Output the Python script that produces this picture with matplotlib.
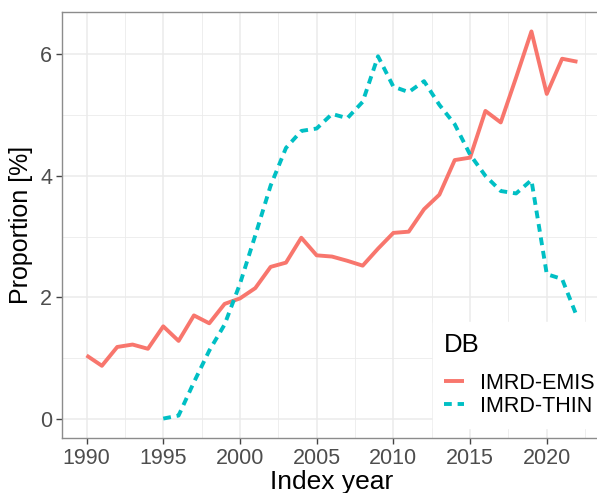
import matplotlib
matplotlib.use("Agg")
import matplotlib.pyplot as plt
from matplotlib.ticker import MultipleLocator

plt.rcParams['font.family'] = ['Liberation Sans', 'DejaVu Sans']

# data
years_emis = list(range(1990, 2023))
emis = [1.04, 0.87, 1.18, 1.22, 1.15, 1.52, 1.28, 1.70, 1.57, 1.89,
        1.98, 2.15, 2.50, 2.57, 2.98, 2.69, 2.67, 2.60, 2.52, 2.80,
        3.06, 3.08, 3.45, 3.69, 4.26, 4.30, 5.07, 4.88, 5.62, 6.38,
        5.35, 5.93, 5.88]

years_thin = list(range(1995, 2023))
thin = [0.00, 0.05, 0.60, 1.12, 1.55, 2.22, 3.02, 3.84, 4.46, 4.74,
        4.78, 5.02, 4.95, 5.22, 5.97, 5.47, 5.38, 5.56, 5.17, 4.85,
        4.35, 4.00, 3.75, 3.71, 3.93, 2.38, 2.30, 1.66]

labels = ['IMRD-EMIS', 'IMRD-THIN']
red = '#F8766D'
teal = '#00BFC4'
grid_col = '#EBEBEB'
frame_col = '#8C8C8C'

fig = plt.figure(figsize=(5.97, 4.93), dpi=100)
W, H = 597.0, 493.0
ax = fig.add_axes([62 / W, 55 / H, (602 - 62) / W, (438 - 12) / H])

ax.plot(years_emis, emis, color=red, lw=2.8, solid_capstyle='butt',
        label=labels[0], zorder=3)
ax.plot(years_thin, thin, color=teal, lw=2.8, linestyle=(0, (2.0, 1.5)),
        dash_capstyle='butt', label=labels[1], zorder=3)

ax.set_xlim(1988.4, 2023.6)
ax.set_ylim(-0.32, 6.70)
ax.xaxis.set_major_locator(MultipleLocator(5))
ax.xaxis.set_minor_locator(MultipleLocator(2.5))
ax.yaxis.set_major_locator(MultipleLocator(2))
ax.yaxis.set_minor_locator(MultipleLocator(1))

ax.grid(which='major', color=grid_col, lw=1.1, zorder=0)
ax.grid(which='minor', color=grid_col, lw=0.6, zorder=0)
ax.set_axisbelow(True)

for s in ax.spines.values():
    s.set_color(frame_col)
    s.set_linewidth(1.0)

ax.tick_params(which='major', length=4, width=1, color='#444444',
               labelsize=15.5, labelcolor='#4D4D4D', pad=3)
ax.tick_params(which='minor', length=0)

ax.set_xlabel('Index year', fontsize=19, labelpad=1)
ax.set_ylabel('Proportion [%]', fontsize=18, labelpad=5)

leg = ax.legend(loc='upper left', bbox_to_anchor=(433 / W, 1 - 322 / H),
                bbox_transform=fig.transFigure, title='DB', fontsize=15.5,
                title_fontsize=18.5, frameon=True, fancybox=False,
                handlelength=0.95, handletextpad=0.75, borderpad=0.5,
                labelspacing=0.1, borderaxespad=0)
leg._legend_box.align = 'left'
leg._legend_box.sep = 11.5
leg.get_frame().set_facecolor('white')
leg.get_frame().set_edgecolor('white')
leg.get_frame().set_alpha(1)
leg.set_zorder(5)

fig.savefig('out.png', dpi=100)
